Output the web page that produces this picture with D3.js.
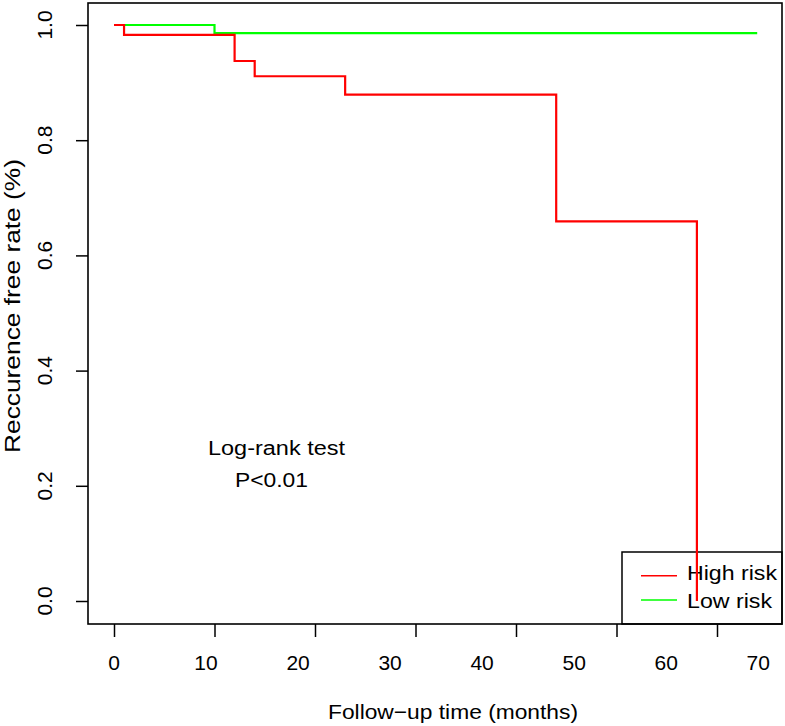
<!DOCTYPE html>
<html><head><meta charset="utf-8">
<script src="https://cdn.jsdelivr.net/npm/d3@7"></script>
<style>body{margin:0;background:#fff}svg{display:block}text{font-family:"Liberation Sans",Arial,Helvetica,sans-serif;fill:#000}</style>
</head><body>
<script>
// ---- data ----
const highTimes = [0, 1, 12, 14, 23, 44, 58];
const highSurv  = [1, 0.983, 0.9375, 0.911, 0.879, 0.659, 0];
const lowTimes  = [0, 10, 64];
const lowSurv   = [1, 0.986, 0.986];
const xTicks = [0, 10, 20, 30, 40, 50, 60];
const xTickLabels = ["0", "10", "20", "30", "40", "50", "60", "70"];
const yTicks = [0, 0.2, 0.4, 0.6, 0.8, 1.0];
const seriesNames = ["High risk", "Low risk"];
const seriesColors = ["#ff0000", "#00ff00"];
const annotation = ["Log-rank test", "P<0.01"];

const W = 785, H = 726;
const svg = d3.select("body").append("svg").attr("width", W).attr("height", H);

const x = d3.scaleLinear().domain([0, 64]).range([114, 757.2]);
const y = d3.scaleLinear().domain([0, 1]).range([601, 25]);
const labelX = d3.scaleLinear().domain([0, 70]).range([x(0), x(64) + 1]);

const box = {l: 88, r: 782, t: 3, b: 624};

function txt(sel, len) {
  return sel.attr("textLength", len).attr("lengthAdjust", "spacingAndGlyphs");
}

// x axis ticks
const gx = svg.append("g").attr("transform", `translate(0,${box.b})`)
  .call(d3.axisBottom(x).tickValues(xTicks).tickSize(13).tickSizeOuter(0).tickFormat(""));
gx.select(".domain").remove();
gx.selectAll("line").attr("stroke", "#000").attr("stroke-width", 1.5);
svg.append("g").selectAll("text").data(xTickLabels).join("text")
  .attr("x", (d, i) => labelX(+d)).attr("y", 670)
  .attr("text-anchor", "middle").attr("font-size", 21).text(d => d);

// y axis
const gy = svg.append("g").attr("transform", `translate(${box.l},0)`)
  .call(d3.axisLeft(y).tickValues(yTicks).tickSize(12).tickSizeOuter(0).tickFormat(""));
gy.select(".domain").remove();
gy.selectAll("line").attr("stroke", "#000").attr("stroke-width", 1.5);
svg.append("g").selectAll("text").data(yTicks).join("text")
  .attr("transform", d => `translate(52,${y(d)}) rotate(-90)`)
  .attr("text-anchor", "middle").attr("font-size", 21).text(d => d.toFixed(1));

// box
svg.append("rect").attr("x", box.l).attr("y", box.t)
  .attr("width", box.r - box.l).attr("height", box.b - box.t)
  .attr("fill", "none").attr("stroke", "#000").attr("stroke-width", 1.6);

// axis titles
txt(svg.append("text").attr("x", 453).attr("y", 719).attr("text-anchor", "middle")
  .attr("font-size", 21).text("Follow\u2212up time (months)"), 250);
txt(svg.append("text").attr("transform", "translate(20,306) rotate(-90)").attr("text-anchor", "middle")
  .attr("font-size", 22).text("Reccurence free rate (%)"), 294);

// annotation
txt(svg.append("text").attr("x", 276.5).attr("y", 455).attr("text-anchor", "middle").attr("font-size", 20).text(annotation[0]), 137);
txt(svg.append("text").attr("x", 271.5).attr("y", 487).attr("text-anchor", "middle").attr("font-size", 20).text(annotation[1]), 73);

// legend
const lg = svg.append("g");
lg.append("rect").attr("x", 622).attr("y", 552).attr("width", box.r - 622).attr("height", box.b - 552)
  .attr("fill", "none").attr("stroke", "#000").attr("stroke-width", 1.5);
const lineRows = [575.7, 600];
const textRows = [580, 608];
const textLens = [90, 85];
seriesNames.forEach((n, i) => {
  lg.append("line").attr("x1", 641).attr("x2", 677).attr("y1", lineRows[i]).attr("y2", lineRows[i])
    .attr("stroke", seriesColors[i]).attr("stroke-width", 1.6);
  txt(lg.append("text").attr("x", 687).attr("y", textRows[i]).attr("font-size", 21).text(n), textLens[i]);
});

// curves
const line = d3.line().x(d => x(d[0])).y(d => y(d[1])).curve(d3.curveStepAfter);
const lowData = lowTimes.map((t, i) => [t, lowSurv[i]]);
const highData = highTimes.map((t, i) => [t, highSurv[i]]);
svg.append("path").datum(lowData).attr("d", line).attr("fill", "none")
  .attr("stroke", seriesColors[1]).attr("stroke-width", 2.2);
svg.append("path").datum(highData).attr("d", line).attr("fill", "none")
  .attr("stroke", seriesColors[0]).attr("stroke-width", 2.2);
</script>
</body></html>
